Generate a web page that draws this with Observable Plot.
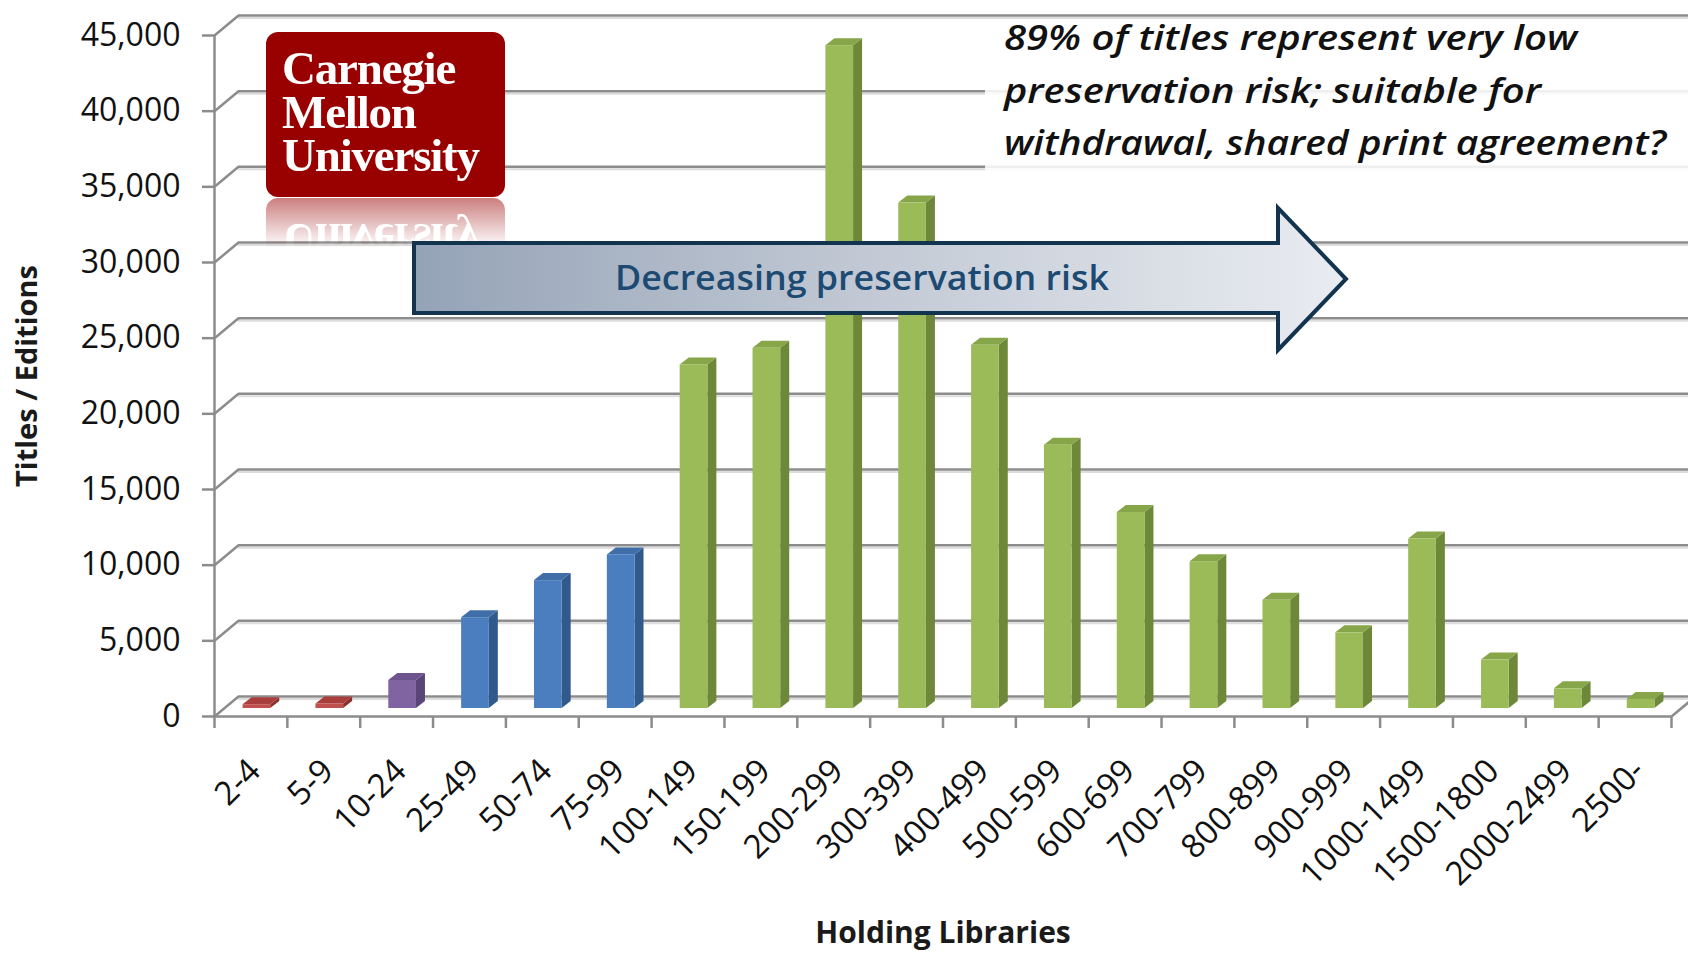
<!DOCTYPE html>
<html>
<head>
<meta charset="utf-8">
<script src="https://cdn.jsdelivr.net/npm/d3@7"></script>
<script src="https://cdn.jsdelivr.net/npm/@observablehq/plot@0.6"></script>
<style>
  html, body { margin: 0; padding: 0; background: #fff; }
  #wrap { position: relative; width: 1688px; height: 961px; overflow: hidden; }
  #chart svg { display: block; }
  #logo { position: absolute; left: 266px; top: 32px; width: 239px; height: 165px;
          -webkit-box-reflect: below 1px linear-gradient(transparent 70%, rgba(255,255,255,0.5)); }
  #overlay { position: absolute; left: 0; top: 0; }
</style>
</head>
<body>
<div id="wrap">
  <div id="chart"></div>
  <div id="logo">
    <svg width="239" height="165" xmlns="http://www.w3.org/2000/svg">
      <rect x="0" y="0" width="239" height="165" rx="12" ry="12" fill="#990000"/>
      <text fill="#fff" font-family="'Liberation Serif', 'DejaVu Serif', serif" font-weight="bold" font-size="47" letter-spacing="-1.2"><tspan x="16" y="52">Carnegie</tspan><tspan x="16" y="96">Mellon</tspan><tspan x="16" y="139">University</tspan></text>
    </svg>
  </div>
  <svg id="overlay" width="1688" height="961" xmlns="http://www.w3.org/2000/svg">
    <defs>
      <linearGradient id="arrowFill" x1="0" y1="0" x2="1" y2="0">
        <stop offset="0" stop-color="#95a3b7"/>
        <stop offset="0.5" stop-color="#c3cad5"/>
        <stop offset="1" stop-color="#e9ecf1"/>
      </linearGradient>
    </defs>
    <rect x="985" y="19" width="703" height="156" fill="#fff" fill-opacity="0.86"/>
    <g font-family="'Open Sans', sans-serif" font-style="italic" font-weight="600" font-size="35" fill="#111">
      <text x="1004" y="50" textLength="573" lengthAdjust="spacingAndGlyphs">89% of titles represent very low</text>
      <text x="1004" y="103" textLength="537" lengthAdjust="spacingAndGlyphs">preservation risk; suitable for</text>
      <text x="1004" y="155" textLength="662" lengthAdjust="spacingAndGlyphs">withdrawal, shared print agreement?</text>
    </g>
    <polygon points="414,243 1278,243 1278,208 1346,279 1278,350 1278,313 414,313"
             fill="url(#arrowFill)" stroke="#12344f" stroke-width="4" stroke-linejoin="miter"/>
    <text x="862" y="290" text-anchor="middle" font-family="'Open Sans', sans-serif" font-weight="600"
          font-size="34" fill="#1d4a72" textLength="494" lengthAdjust="spacingAndGlyphs">Decreasing preservation risk</text>
  </svg>
</div>
<script>
// ---- data ----
const categories = ["2-4","5-9","10-24","25-49","50-74","75-99","100-149","150-199","200-299","300-399",
  "400-499","500-599","600-699","700-799","800-899","900-999","1000-1499","1500-1800","2000-2499","2500-"];
const titles = [250, 300, 1850, 6000, 8450, 10150, 22700, 23800, 43800, 33400,
  24000, 17400, 12950, 9700, 7150, 5000, 11200, 3200, 1300, 600];
const riskGroup = ["red","red","purple","blue","blue","blue","green","green","green","green",
  "green","green","green","green","green","green","green","green","green","green"];
const yTicks = [0, 5000, 10000, 15000, 20000, 25000, 30000, 35000, 40000, 45000];
const yTitle = "Titles / Editions";
const xTitle = "Holding Libraries";

// ---- styles ----
const palette = {
  red:    {front: "#c0504d", side: "#8a2f2c", top: "#a83f3c"},
  purple: {front: "#8064a2", side: "#594577", top: "#6e548f"},
  blue:   {front: "#4a7ebf", side: "#30598c", top: "#3f6ea8"},
  green:  {front: "#9bbb59", side: "#6d8838", top: "#87a649"}
};
const W = 1688, H = 961;
const margin = {left: 214, right: 17, top: 35, bottom: 245};
const yMax = 45000;
const pxPerX = (W - margin.left - margin.right) / categories.length;
const pxPerY = (H - margin.top - margin.bottom) / yMax;
const ux = px => px / pxPerX, uy = px => px / pxPerY;
const wall = {dx: 24, dy: 20};
const bar = {half: 0.19, shiftX: 6, shiftY: 8, depthX: 9, depthY: 7};
const gridColor = "#8c8c8c";

const rows = categories.map((cat, i) => ({cat, i, v: titles[i], g: riskGroup[i]}));
const bx1 = d => d.i + 0.5 - bar.half, bx2 = d => d.i + 0.5 + bar.half;
const dX = ux(bar.depthX), dY = uy(bar.depthY);
const sidePts = rows.flatMap(d => [
  {id: d.i, g: d.g, x: bx2(d), y1: 0, y2: d.v},
  {id: d.i, g: d.g, x: bx2(d) + dX, y1: dY, y2: d.v + dY}
]);
const topPts = rows.flatMap(d => [
  {id: d.i, g: d.g, x: bx1(d), y1: d.v, y2: d.v},
  {id: d.i, g: d.g, x: bx1(d) + dX, y1: d.v, y2: d.v + dY},
  {id: d.i, g: d.g, x: bx2(d), y1: d.v, y2: d.v + dY},
  {id: d.i, g: d.g, x: bx2(d) + dX, y1: d.v + dY, y2: d.v + dY}
]);

const chart = Plot.plot({
  width: W, height: H,
  marginLeft: margin.left, marginRight: margin.right, marginTop: margin.top, marginBottom: margin.bottom,
  x: {type: "linear", domain: [0, categories.length], axis: null},
  y: {domain: [0, yMax], axis: null},
  color: {type: "identity"},
  style: {fontFamily: "'Open Sans', sans-serif", background: "transparent", color: "#1a1a1a"},
  marks: [
    // back wall gridlines (with a light shadow)
    Plot.ruleY(yTicks, {x1: () => 0, x2: () => categories.length, dx: wall.dx, dy: -wall.dy + 2.5, stroke: "#dcdcdc", strokeWidth: 2}),
    Plot.ruleY(yTicks, {x1: () => 0, x2: () => categories.length, dx: wall.dx, dy: -wall.dy, stroke: gridColor, strokeWidth: 2.5}),
    // left-side diagonals joining the axis to the back wall
    Plot.link(yTicks, {x1: () => 0, y1: d => d, x2: () => ux(wall.dx), y2: d => d + uy(wall.dy), stroke: gridColor, strokeWidth: 2.5}),
    // floor: front edge and right diagonal
    Plot.ruleY([0], {x1: () => 0, x2: () => categories.length, stroke: gridColor, strokeWidth: 2.5}),
    Plot.link([0], {x1: () => categories.length, y1: () => 0, x2: () => categories.length + ux(wall.dx), y2: () => uy(wall.dy), stroke: gridColor, strokeWidth: 2.5}),
    // y axis line
    Plot.ruleX([0], {y1: () => 0, y2: () => yMax, stroke: gridColor, strokeWidth: 2.5}),
    Plot.axisY(yTicks, {tickSize: 12, tickPadding: 22, tickFormat: d3.format(","), fontSize: 32, fontWeight: 500,
      stroke: gridColor, strokeWidth: 2.5, fill: "#111", label: null}),
    Plot.axisX(d3.range(categories.length + 1), {tickSize: 12, tickFormat: () => "", stroke: gridColor, strokeWidth: 2.5, label: null}),
    // 3D bars: side, top, front
    Plot.areaY(sidePts, {x: "x", y1: "y1", y2: "y2", z: "id", fill: d => palette[d.g].side, dx: bar.shiftX, dy: -bar.shiftY}),
    Plot.areaY(topPts, {x: "x", y1: "y1", y2: "y2", z: "id", fill: d => palette[d.g].top, dx: bar.shiftX, dy: -bar.shiftY}),
    Plot.rect(rows, {x1: bx1, x2: bx2, y1: () => 0, y2: "v", fill: d => palette[d.g].front, dx: bar.shiftX, dy: -bar.shiftY}),
    // category labels
    Plot.text(rows, {x: d => d.i + 0.5, y: () => 0, text: "cat", rotate: -45, textAnchor: "end",
      dx: 4, dy: 49, fontSize: 33, fill: "#111"}),
    // axis titles
    Plot.text([yTitle], {frameAnchor: "left", textAnchor: "middle", dx: -(margin.left - 27), rotate: -90,
      fontSize: 29, fontWeight: "bold", fill: "#1a1a1a"}),
    Plot.text([xTitle], {frameAnchor: "bottom", textAnchor: "middle", dy: 226, fontSize: 30, fontWeight: "bold", fill: "#1a1a1a"})
  ]
});
document.getElementById("chart").appendChild(chart);
</script>
</body>
</html>
